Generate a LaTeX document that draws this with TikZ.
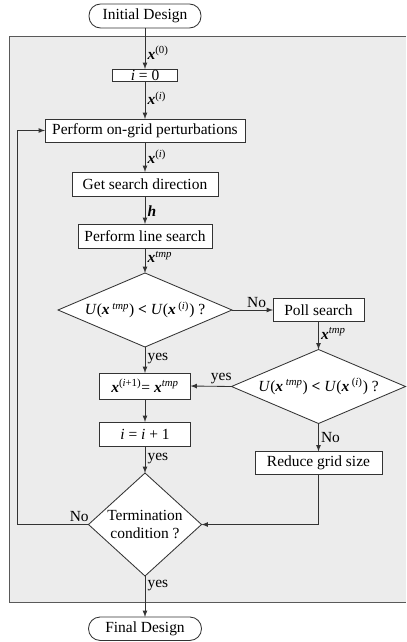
\documentclass[tikz,border=0pt]{standalone}
\usepackage{fontspec}
\setmainfont{Liberation Serif}
\usetikzlibrary{shapes.geometric, arrows, positioning, backgrounds}
\definecolor{panelgray}{RGB}{236,236,236}
\newcommand{\bx}{\textbf{\textit{x}}}
\newcommand{\sps}[1]{\textsuperscript{#1}}

\begin{document}
\begin{tikzpicture}[
        font=\fontsize{11}{13}\selectfont,
        line width=0.6pt,
        block/.style={rectangle, draw=black!80, fill=white, text centered, minimum height=0.6cm, inner sep=1pt, outer sep=0pt},
        terminal/.style={rectangle, draw=black!80, fill=white, text centered, rounded corners=0.29cm, minimum height=0.575cm, minimum width=2.825cm, outer sep=0pt},
        decision/.style={diamond, draw=black!80, fill=white, text centered, inner sep=0pt, outer sep=0pt, align=center},
        lbl/.style={inner sep=1.5pt},
        arrow/.style={draw=black!80, ->,>=latex}
    ]
        \useasboundingbox (-3.625,0.4) rectangle (6.525,-15.65);

        % Start
        \node[terminal, minimum width=2.8cm, minimum height=0.6cm] (init) {Initial Design};
        \node[block, minimum width=1.625cm, minimum height=0.3cm, inner ysep=0pt] (i0) [below=1.025cm of init] {\textit{i} = 0};

        % Main loop
        \node[block, minimum width=5cm, minimum height=0.575cm] (perturb) [below=0.95cm of i0] {Perform on-grid perturbations};
        \node[block, minimum width=3.65cm] (getdir) [below=0.75cm of perturb] {Get search direction};
        \node[block, minimum width=3.35cm] (lsearch) [below=0.7cm of getdir] {Perform line search};
        \node[decision, shape aspect=2.35, minimum width=4.35cm, minimum height=1.85cm] (dec1) [below=0.625cm of lsearch] {\textit{U}(\bx\,\sps{\textit{tmp}}) \textbf{<} \textit{U}(\bx\,\sps{(\textit{i})}) ?};

        % Poll branch
        \node[block, minimum width=2.275cm, minimum height=0.575cm] (poll) [right=1.025cm of dec1] {Poll search};
        \node[decision, shape aspect=2.35, minimum width=4.35cm, minimum height=1.85cm] (dec2) [below=0.7cm of poll] {\textit{U}(\bx\,\sps{\textit{tmp}}) \textbf{<} \textit{U}(\bx\,\sps{(\textit{i})}) ?};
        \node[block, minimum width=3.175cm, minimum height=0.575cm] (reduce) [below=0.7cm of dec2] {Reduce grid size};

        % Update
        \node[block, minimum width=2.275cm, minimum height=0.65cm] (update) [below=0.65cm of dec1] {\bx\sps{(\textit{i}+1)}= \bx\sps{\textit{tmp}}};
        \node[block, minimum width=2.275cm] (incr) [below=0.575cm of update] {\textit{i} = \textit{i} + 1};
        \node[decision, shape aspect=1.1, minimum width=2.825cm, minimum height=2.575cm] (term) [below=0.675cm of incr] {Termination\\condition ?};

        % End
        \node[terminal] (final) [below=1.025cm of term] {Final Design};

        % Panel (open at the right edge)
        \begin{scope}[on background layer]
            \fill[panelgray] (-3.4,-0.5) rectangle (6.525,-14.65);
            \draw[draw=black!65] (6.525,-0.5) -- (-3.4,-0.5) -- (-3.4,-14.65) -- (6.525,-14.65);
        \end{scope}

        % Arrows
        \draw[arrow] (init) -- node[lbl, right, pos=0.6] {\bx\sps{(0)}} (i0);
        \draw[arrow] (i0) -- node[lbl, right, pos=0.45] {\bx\sps{(\textit{i})}} (perturb);
        \draw[arrow] (perturb) -- node[lbl, right, pos=0.5] {\bx\sps{(\textit{i})}} (getdir);
        \draw[arrow] (getdir) -- node[lbl, right, pos=0.54] {\textbf{\textit{h}}} (lsearch);
        \draw[arrow] (lsearch) -- node[lbl, right, pos=0.36] {\bx\sps{\textit{tmp}}} (dec1);

        \draw[arrow] (dec1.east) -- node[lbl, above, pos=0.6] {No} (poll.west);
        \draw[arrow] (poll) -- node[lbl, right, pos=0.43] {\bx\sps{\textit{tmp}}} (dec2);
        \draw[arrow] (dec2) -- node[lbl, right, pos=0.5] {No} (reduce);
        \draw[arrow] (dec2.west) -- node[lbl, above, pos=0.25] {yes} (update.east);

        \draw[arrow] (dec1) -- node[lbl, right, pos=0.43] {yes} (update);
        \draw[arrow] (update) -- (incr);
        \draw[arrow] (incr) -- node[lbl, right, pos=0.48] {yes} (term);

        \draw[arrow] (reduce.south) |- (term.east);
        \draw[arrow] (term.west) -- node[lbl, above, pos=0.13] {No} ++(-1.775,0) |- (perturb.west);
        \draw[arrow] (term) -- node[lbl, right, pos=0.22] {yes} (final);
    \end{tikzpicture}
\end{document}
